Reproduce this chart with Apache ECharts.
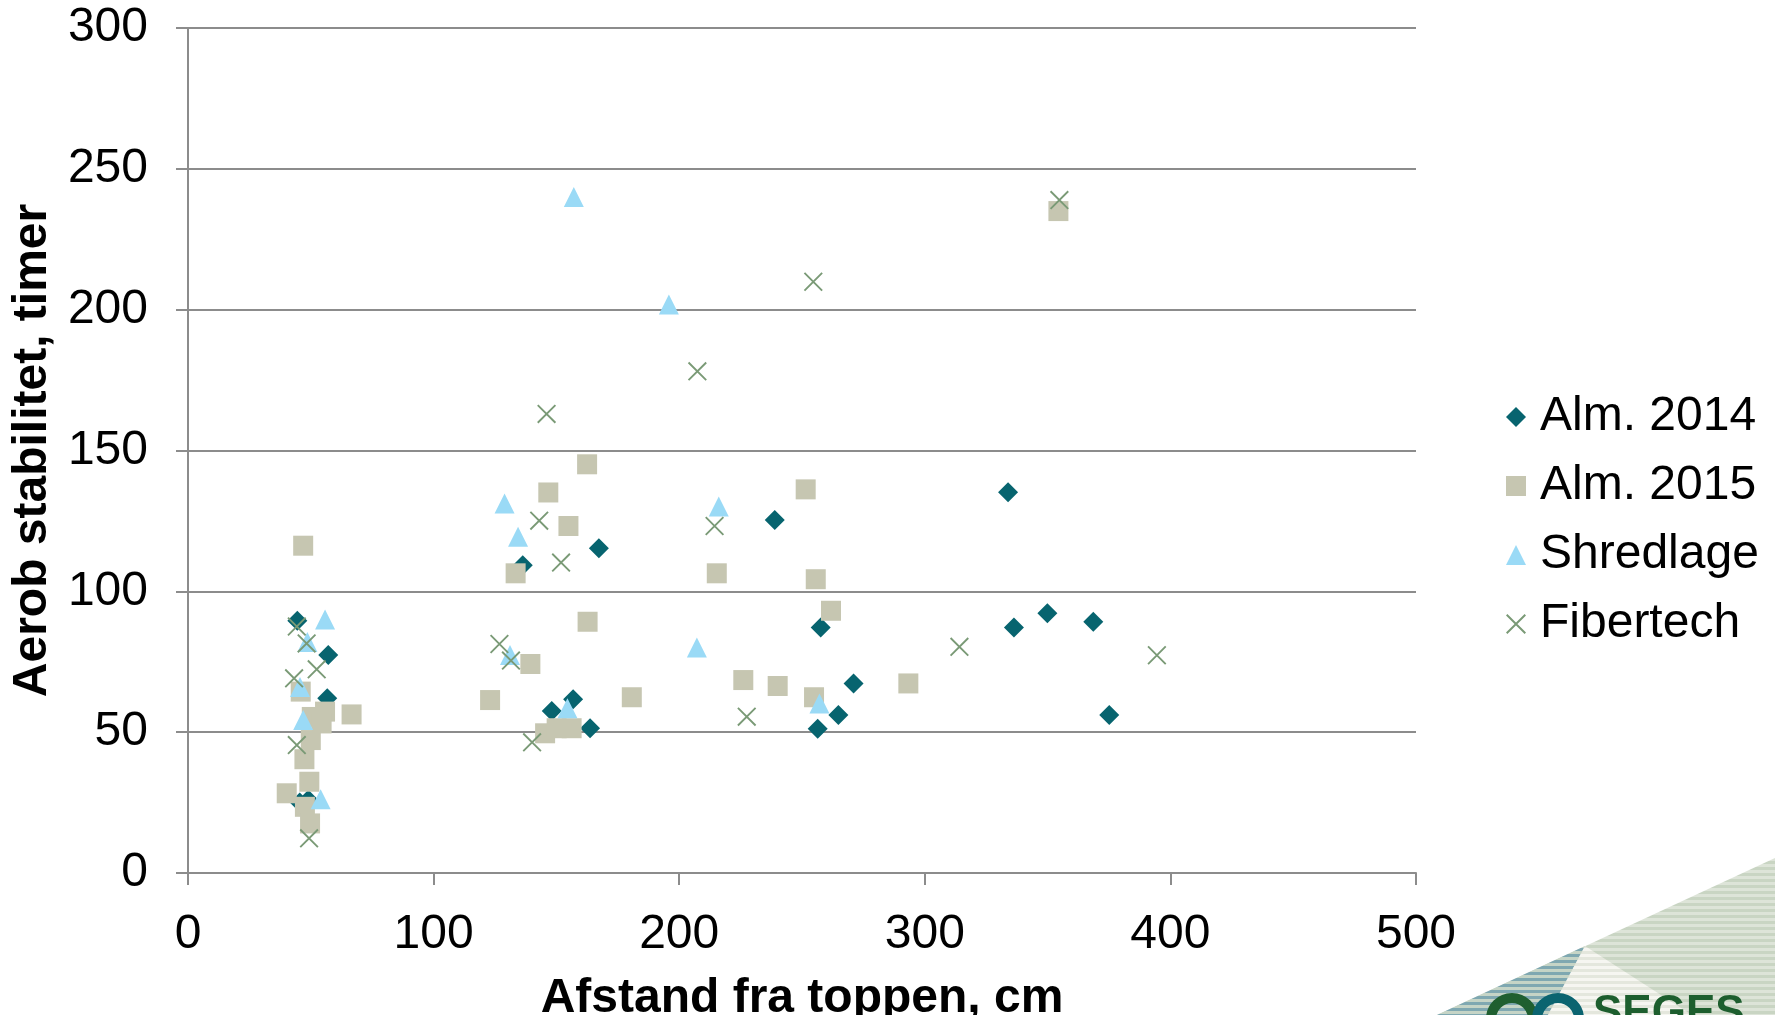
<!DOCTYPE html>
<html>
<head>
	<meta charset="utf-8">
	<title>Aerob stabilitet</title>
	<script src="https://cdn.jsdelivr.net/npm/echarts@6/dist/echarts.min.js"></script>
	<style>
		html, body {margin: 0; padding: 0; background: #fff;}
	</style>
</head>
<body>
	<div id="main" style="width: 1775px;height: 1015px"></div>
	<script type="text/javascript">
		// serienavne
		var seriesNames = ['Alm. 2014', 'Alm. 2015', 'Shredlage', 'Fibertech'];
		// [afstand fra toppen (cm), aerob stabilitet (timer)]
		var alm2014 = [
			[44.5, 89.6], [57.1, 77.4], [56.7, 62], [45.5, 25], [49, 26],
			[136.3, 109.3], [167.3, 115.3], [156.8, 61.7], [148.1, 57.5], [163.7, 51.4],
			[238.9, 125.3], [257.6, 87.2], [271, 67.3], [264.8, 56.1], [256.4, 51.2],
			[333.9, 135.2], [336.3, 87.2], [349.9, 92.2], [368.6, 89.2], [375.1, 56.1]
		];
		var alm2015 = [
			[46.9, 116.2], [45.9, 64.4], [55.8, 57.3], [50.4, 55.4], [54.4, 53.1], [66.6, 56.3],
			[50, 47.2], [47.4, 40.4], [49.4, 32.4], [40.2, 28.3], [47.6, 23.5], [49.7, 17.6],
			[162.5, 145.1], [146.7, 135.1], [154.9, 123.2], [133.4, 106.4], [162.7, 89.2],
			[139.4, 74.2], [123, 61.4], [180.7, 62.4], [145.4, 49.6], [150.1, 51.4], [156.2, 51.4],
			[215.3, 106.4], [226.1, 68.5], [240.1, 66.4], [251.5, 136.2], [255.6, 104.3],
			[261.8, 93.1], [254.9, 62.4], [293.3, 67.3], [354.4, 235]
		];
		var shredlage = [
			[55.8, 90], [48.6, 82], [45.6, 66], [46.9, 54.3], [54, 26.2],
			[157.1, 240], [128.9, 131.2], [134.4, 119.4], [131.1, 77.4], [154.5, 58.5],
			[195.8, 201.8], [216.1, 130.1], [207.2, 80.1], [257.1, 60.2]
		];
		var fibertech = [
			[44.3, 87.5], [48.3, 81.5], [52.4, 72.3], [43.2, 69.1], [44.3, 45.4], [49.3, 12.3],
			[146, 163], [143, 125.1], [151.9, 110.2], [126.8, 81.3], [131.5, 75.4], [140.1, 46.4],
			[207.4, 178.1], [214.4, 123.2], [227.5, 55.5], [254.6, 209.9], [314.1, 80.3],
			[354.8, 238.9], [394.5, 77.3]
		];

		var font = 'Liberation Sans';
		var gridColor = '#8c8c8c';
		// kryds tegnet som udfyldt sti
		var crossPath = 'path://M0,0.7L0.7,0L10,9.3L9.3,10Z M9.3,0L10,0.7L0.7,10L0,9.3Z';

		// stribet mønster til logo-hjørnet
		function stripes(c1, c2) {
			var cv = document.createElement('canvas');
			cv.width = 6; cv.height = 6;
			var ctx = cv.getContext('2d');
			ctx.fillStyle = c1; ctx.fillRect(0, 0, 6, 3);
			ctx.fillStyle = c2; ctx.fillRect(0, 3, 6, 3);
			return {image: cv, repeat: 'repeat'};
		}

		var myChart = echarts.init(document.getElementById('main'));
		var option = {
			backgroundColor: '#ffffff',
			animation: false,
			grid: {left: 188, right: 359, top: 28, bottom: 142, outerBoundsMode: 'none'},
			legend: {
				orient: 'vertical',
				left: 1506,
				top: 393,
				padding: 0,
				itemGap: 21,
				itemWidth: 20,
				itemHeight: 20,
				data: seriesNames,
				textStyle: {fontFamily: font, fontSize: 48, color: '#000', padding: [0, 0, 0, 9]}
			},
			xAxis: {
				type: 'value',
				min: 0, max: 500, interval: 100,
				name: 'Afstand fra toppen, cm',
				nameLocation: 'middle',
				nameGap: 102,
				nameTextStyle: {fontFamily: font, fontSize: 48, fontWeight: 'bold', color: '#000'},
				splitLine: {show: false},
				axisLine: {lineStyle: {color: gridColor, width: 2}},
				axisTick: {show: true, length: 12, lineStyle: {color: gridColor, width: 2}},
				axisLabel: {fontFamily: font, fontSize: 48, color: '#000', margin: 38}
			},
			yAxis: {
				type: 'value',
				min: 0, max: 300, interval: 50,
				name: 'Aerob stabilitet, timer',
				nameLocation: 'middle',
				nameGap: 130,
				nameTextStyle: {fontFamily: font, fontSize: 48, fontWeight: 'bold', color: '#000'},
				axisLine: {show: true, lineStyle: {color: gridColor, width: 2}},
				axisTick: {show: true, length: 12, lineStyle: {color: gridColor, width: 2}},
				splitLine: {lineStyle: {color: gridColor, width: 2}},
				axisLabel: {fontFamily: font, fontSize: 48, color: '#000', margin: 40}
			},
			series: [
				{
					name: seriesNames[0], type: 'scatter', data: alm2014,
					symbol: 'diamond', symbolSize: 20,
					itemStyle: {color: '#07646f', opacity: 1}
				},
				{
					name: seriesNames[1], type: 'scatter', data: alm2015,
					symbol: 'rect', symbolSize: 20,
					itemStyle: {color: '#c6c6b1', opacity: 1}
				},
				{
					name: seriesNames[2], type: 'scatter', data: shredlage,
					symbol: 'triangle', symbolSize: 20,
					itemStyle: {color: '#9adaf6', opacity: 1}
				},
				{
					name: seriesNames[3], type: 'scatter', data: fibertech,
					symbol: crossPath, symbolSize: 19,
					itemStyle: {color: '#7a9a76', opacity: 1}
				}
			],
			graphic: [
				{
					type: 'polygon', silent: true,
					shape: {points: [[1437, 1015], [1775, 858], [1775, 1015]]},
					style: {fill: stripes('#dde4d8', '#c9d5c3')}
				},
				{
					type: 'polygon', silent: true,
					shape: {points: [[1437, 1015], [1585, 946], [1548, 1015]]},
					style: {fill: stripes('#7fa8b1', '#c5d4c6')}
				},
				{
					type: 'polygon', silent: true,
					shape: {points: [[1585, 946], [1692, 1015], [1548, 1015]]},
					style: {fill: stripes('#f6f6f1', '#e4e7dd')}
				},
				{
					type: 'circle', silent: true,
					shape: {cx: 1512, cy: 1019, r: 21},
					style: {fill: 'none', stroke: '#1f5f30', lineWidth: 10}
				},
				{
					type: 'circle', silent: true,
					shape: {cx: 1558, cy: 1019, r: 21},
					style: {fill: 'none', stroke: '#0b6470', lineWidth: 10}
				},
				{
					type: 'text', silent: true,
					style: {
						text: 'SEGES', x: 1593, y: 992,
						font: 'bold 44px "Liberation Sans"', fill: '#1d5e2e'
					}
				}
			]
		};
		myChart.setOption(option);
	</script>
</body>
</html>
